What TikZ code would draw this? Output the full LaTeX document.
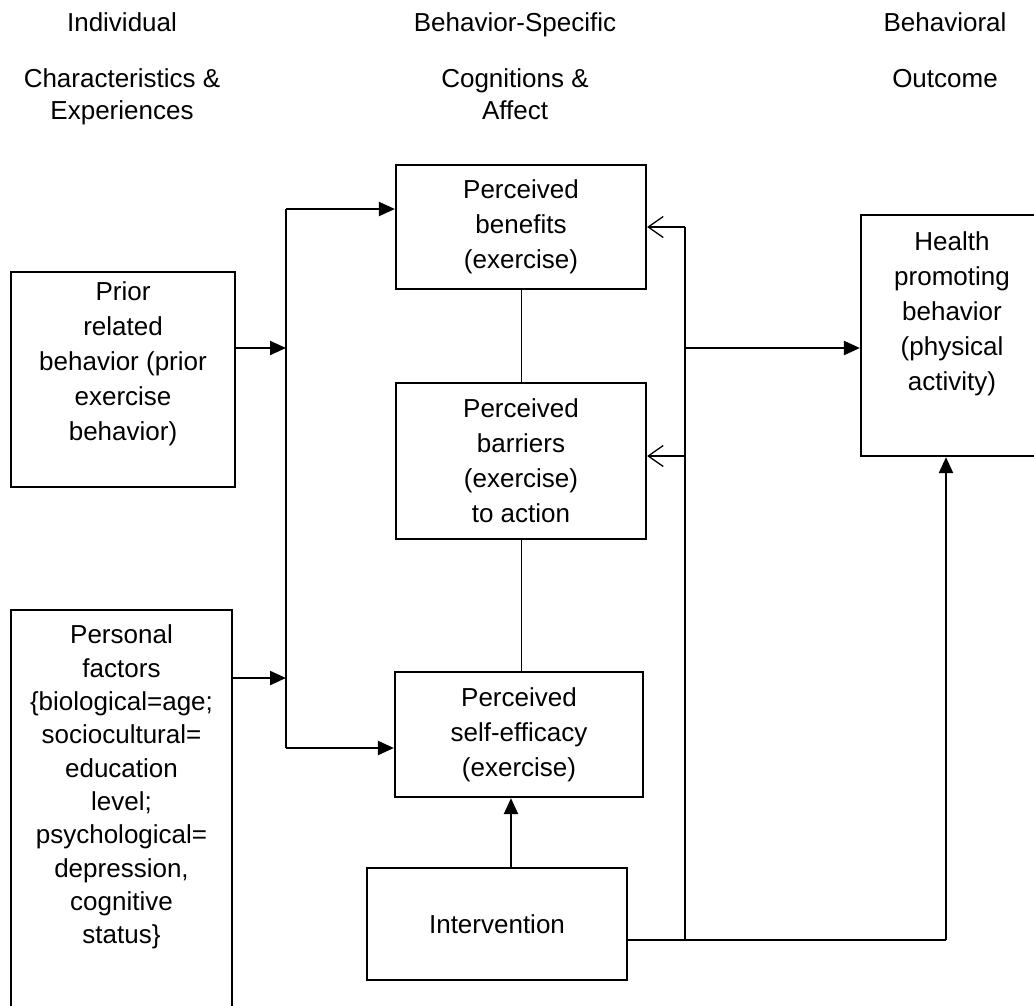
\documentclass[tikz,border=0pt]{standalone}
\usepackage{fontspec}
\setmainfont{Liberation Sans}
\usetikzlibrary{arrows.meta,calc,positioning}
\tikzset{
  block/.style={
    rectangle,
    draw=black, line width=2.2pt,
    align=center,
    inner sep=0pt},
  line/.style={draw, line width=2.2pt},
  feed/.style={draw, line width=2.2pt, -{Triangle[length=16pt,width=14pt]}},
  back/.style={draw, line width=1.3pt, -{Straight Barb[length=15pt,width=21pt]}},
  link/.style={draw, line width=0.9pt},
  head/.style={anchor=base},
}

\begin{document}
\begin{tikzpicture}[x=1pt, y=-1pt, font=\fontsize{26}{35}\selectfont]
  \useasboundingbox (0,0) rectangle (1034,1005);
  % column headings
  \node[head] (indA) at (122,31) {Individual};
  \node[head] (indB) at (122,87.5) {Characteristics \&};
  \node[head] (indC) at (122,119.5) {Experiences};
  \node[head] (bsA) at (515,31) {Behavior-Specific};
  \node[head] (bsB) at (515,87.5) {Cognitions \&};
  \node[head] (bsC) at (515,119.5) {Affect};
  \node[head] (outA) at (945,31) {Behavioral};
  \node[head] (outB) at (945,87.5) {Outcome};

  % boxes
  \node[block, minimum width=224pt, minimum height=215pt] (prior) at (123,379.5)
    {Prior\\related\\behavior (prior\\exercise\\behavior)\\[-9pt]\strut};
  \node[block, minimum width=221pt, minimum height=405pt,
        font=\fontsize{26}{33.3}\selectfont] (personal) at (121.5,812.5)
    {Personal\\factors\\\{biological=age;\\sociocultural=\\education\\level;\\psychological=\\depression,\\cognitive\\status\}\\[13pt]\strut};
  \node[block, minimum width=250pt, minimum height=124pt] (benefits) at (521,227)
    {Perceived\\benefits\\(exercise)};
  \node[block, minimum width=250pt, minimum height=156pt] (barriers) at (521,461)
    {Perceived\\barriers\\(exercise)\\to action};
  \node[block, minimum width=248pt, minimum height=125pt] (efficacy) at (519,734.5)
    {Perceived\\self-efficacy\\(exercise)};
  \node[block, minimum width=260pt, minimum height=112pt] (intervention) at (497,924)
    {\raisebox{-6pt}{Intervention}};
  \node[block, minimum width=182pt, minimum height=241pt] (health) at (952,335.5)
    {Health\\promoting\\behavior\\(physical\\activity)\\[4pt]\strut};

  % left bus
  \coordinate (jtop) at (286,209);
  \coordinate (jprior) at (286,348);
  \coordinate (jpers) at (286,678);
  \coordinate (jbot) at (286,748);
  \draw[line] (jtop) -- (jbot);
  \draw[feed] (jtop) -- (jtop -| benefits.west);
  \draw[feed] (prior.east |- jprior) -- (jprior);
  \draw[feed] (personal.east |- jpers) -- (jpers);
  \draw[feed] (jbot) -- (jbot -| efficacy.west);

  % links between the middle boxes
  \draw[link] (benefits.south) -- (barriers.north);
  \draw[link] (barriers.south) -- (barriers.south |- efficacy.north);
  \draw[feed] ([xshift=14pt]intervention.north) -- ([xshift=14pt]intervention.north |- efficacy.south);

  % right bus
  \coordinate (jint) at (685,940);
  \coordinate (jben) at (685,227);
  \coordinate (jmid) at (685,348);
  \coordinate (jbar) at (685,456);
  \coordinate (jhealth) at (946,940);
  \draw[line] (intervention.east |- jint) -- (jhealth);
  \draw[feed] (jhealth) -- (jhealth |- health.south);
  \draw[line] (jint) -- (jben);
  \draw[back] (jben) -- (jben -| benefits.east);
  \draw[back] (jbar) -- (jbar -| barriers.east);
  \draw[feed] (jmid) -- (jmid -| health.west);
\end{tikzpicture}
\end{document}
